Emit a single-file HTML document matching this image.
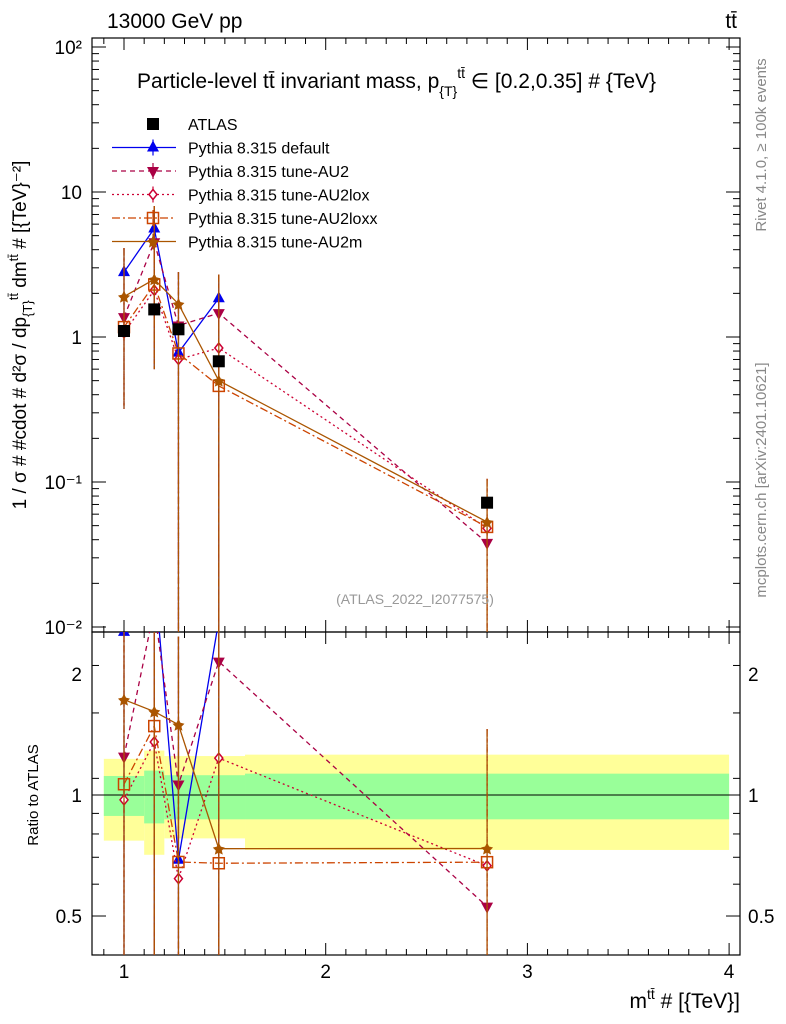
<!DOCTYPE html>
<html><head><meta charset="utf-8"><style>
html,body{margin:0;padding:0;background:#fff;overflow:hidden}
svg{display:block;font-family:"Liberation Sans",sans-serif}
</style></head><body>
<svg id="c" width="786" height="1024" viewBox="0 0 786 1024" xmlns="http://www.w3.org/2000/svg">
<rect width="786" height="1024" fill="#fff"/>
<g id="bands"></g>
<g id="axes"></g>
<g id="series"></g>
<text x="107" y="28" font-size="21">13000 GeV pp</text>
<text x="737" y="28" font-size="21" text-anchor="end">tt̄</text>
<text x="137" y="88" font-size="21">Particle-level tt̄ invariant mass, p<tspan font-size="14" dy="8">{T}</tspan><tspan font-size="14" dy="-18">tt̄</tspan><tspan dy="10"> ∈ [0.2,0.35] # {TeV}</tspan></text>
<text x="415" y="604" font-size="14" fill="#999" text-anchor="middle">(ATLAS_2022_I2077575)</text>
<text transform="translate(766,145) rotate(-90)" font-size="15" fill="#888" text-anchor="middle">Rivet 4.1.0, ≥ 100k events</text>
<text transform="translate(766,480) rotate(-90)" font-size="15" fill="#888" text-anchor="middle">mcplots.cern.ch [arXiv:2401.10621]</text>
<text transform="translate(26,335) rotate(-90)" font-size="19" text-anchor="middle">1 / σ # #cdot # d²σ / dp<tspan font-size="13" dy="6">{T}</tspan><tspan font-size="13" dy="-14">tt̄</tspan><tspan dy="8"> dm</tspan><tspan font-size="13" dy="-8">tt̄</tspan><tspan dy="8"> # [{TeV}⁻²]</tspan></text>
<text transform="translate(38,795) rotate(-90)" font-size="15" text-anchor="middle">Ratio to ATLAS</text>
<text x="740" y="1008" font-size="21" text-anchor="end">m<tspan font-size="14" dy="-9">tt̄</tspan><tspan dy="9"> # [{TeV}]</tspan></text>
<g id="legend"></g>
</svg>
<script>
const xs=[1.0,1.15,1.27,1.47,2.8];
const atlas=[1.1,1.55,1.13,0.68,0.072];
const atlasErr=[0.05,0.07,0.05,0.04,0.006];
const sDefault=[2.8,5.6,0.78,1.85];
const sAU2=[1.37,4.5,1.2,1.46,0.038];
const sAU2lox=[1.07,2.1,0.70,0.84,0.048];
const sAU2loxx=[1.17,2.3,0.77,0.46,0.049];
const sAU2m=[1.9,2.5,1.69,0.5,0.053];
const errLo=[0.32,0.6,0.001,0.001,0.001];
const errHi=[4.1,8.0,2.8,2.7,0.105];
const bandEdges=[0.9,1.1,1.2,1.6,4.0];
const bandYellowHi=[1.23,1.29,1.25,1.26];
const bandYellowLo=[0.77,0.71,0.78,0.73];
const bandGreenHi=[1.115,1.15,1.12,1.13];
const bandGreenLo=[0.887,0.85,0.87,0.87];
const xTicks=[1,2,3,4];
const yTicks=[0.01,0.1,1,10,100];
const yTickLabels=["10⁻²","10⁻¹","1","10","10²"];
const rTicks=[0.5,1,2];
const rTickLabels=["0.5","1","2"];

const NS="http://www.w3.org/2000/svg";
const L=92,R=740,T=38,MB=632,RB=955;
const X=v=>124+(v-1)*201.7;
const Y=v=>337-145*Math.log10(v);
const RY=v=>795-402*Math.log10(v);
function mk(tag,at,parent){const e=document.createElementNS(NS,tag);for(const k in at)e.setAttribute(k,at[k]);parent.appendChild(e);return e;}
const bands=document.getElementById('bands'),axes=document.getElementById('axes'),ser=document.getElementById('series'),leg=document.getElementById('legend');

for(let i=0;i<bandYellowHi.length;i++){
  let r=mk('rect',{x:X(bandEdges[i]),y:RY(bandYellowHi[i]),width:X(bandEdges[i+1])-X(bandEdges[i]),height:RY(bandYellowLo[i])-RY(bandYellowHi[i]),fill:'#ffff99'},bands);
  
  
  let g=mk('rect',{x:X(bandEdges[i]),y:RY(bandGreenHi[i]),width:X(bandEdges[i+1])-X(bandEdges[i]),height:RY(bandGreenLo[i])-RY(bandGreenHi[i]),fill:'#99ff99'},bands);
  
  
}
let f1=mk('rect',{x:L,y:T,width:R-L,height:MB-T,fill:'none',stroke:'#000','stroke-width':1.2},axes);


let f2=mk('rect',{x:L,y:MB,width:R-L,height:RB-MB,fill:'none',stroke:'#000','stroke-width':1.2},axes);


mk('line',{x1:L,x2:R,y1:RY(1),y2:RY(1),stroke:'#000'},axes);
for(let v=0.9;v<=4.01;v+=0.1){const x=X(v);const maj=Math.abs(v-Math.round(v))<1e-6;const len=maj?12:6;
  if(x<L||x>R)continue;
  [[T,T+len],[MB,MB-len],[MB,MB+len],[RB,RB-len]].forEach(p=>mk('line',{x1:x,x2:x,y1:p[0],y2:p[1],stroke:'#000'},axes));}
xTicks.forEach(v=>{let t=mk('text',{x:X(v),y:978,'font-size':19,'text-anchor':'middle'},axes);t.textContent=v;
  
  });
for(let d=-2;d<=2;d++){for(let m=1;m<10;m++){const v=m*Math.pow(10,d);const y=Y(v);if(y<T||y>MB)continue;const len=m==1?14:7;
  mk('line',{x1:L,x2:L+len,y1:y,y2:y,stroke:'#000'},axes);mk('line',{x1:R,x2:R-len,y1:y,y2:y,stroke:'#000'},axes);}}
yTicks.forEach((v,i)=>{let t=mk('text',{x:82,y:Y(v)+7,'font-size':19,'text-anchor':'end'},axes);t.textContent=yTickLabels[i];
  
  });
for(let v=0.3;v<=2.5;v+=(v<1?0.1:0.5)){const y=RY(v);if(y<MB||y>RB)continue;const len=(Math.abs(v-0.5)<1e-6||Math.abs(v-1)<1e-6||Math.abs(v-2)<1e-6)?14:7;
  mk('line',{x1:L,x2:L+len,y1:y,y2:y,stroke:'#000'},axes);mk('line',{x1:R,x2:R-len,y1:y,y2:y,stroke:'#000'},axes);}
rTicks.forEach((v,i)=>{[[82,'end'],[748,'start']].forEach(p=>{let t=mk('text',{x:p[0],y:RY(v)+7,'font-size':19,'text-anchor':p[1]},axes);t.textContent=rTickLabels[i];
  
  });});

const defs=mk('defs',{},ser);
const clipM=mk('clipPath',{id:'cm'},defs);mk('rect',{x:L,y:T,width:R-L,height:MB-T},clipM);
const clipR=mk('clipPath',{id:'cr'},defs);mk('rect',{x:L,y:MB,width:R-L,height:RB-MB},clipR);
const gM=mk('g',{'clip-path':'url(#cm)'},ser),gR=mk('g',{'clip-path':'url(#cr)'},ser);

function marker(g,type,x,y,col){
  if(type=='tri')mk('path',{d:`M${x},${y-7}L${x+6},${y+4}L${x-6},${y+4}Z`,fill:col},g);
  else if(type=='tridown')mk('path',{d:`M${x},${y+7}L${x+6},${y-4}L${x-6},${y-4}Z`,fill:col},g);
  else if(type=='diamond')mk('path',{d:`M${x},${y-5}L${x+4},${y}L${x},${y+5}L${x-4},${y}Z`,fill:'#fff',stroke:col,'stroke-width':1.5},g);
  else if(type=='square')mk('rect',{x:x-5.5,y:y-5.5,width:11,height:11,fill:'none',stroke:col,'stroke-width':1.5},g);
  else if(type=='star')mk('path',{d:`M${x},${y-6}L${x+2},${y-2}L${x+6},${y-1}L${x+3},${y+2}L${x+4},${y+6}L${x},${y+4}L${x-4},${y+6}L${x-3},${y+2}L${x-6},${y-1}L${x-2},${y-2}Z`,fill:col},g);
  else if(type=='box')mk('rect',{x:x-6,y:y-6,width:12,height:12,fill:col},g);
}
const series=[
 {name:'default',label:'Pythia 8.315 default',d:sDefault,col:'#0000ee',dash:'',m:'tri'},
 {name:'au2',label:'Pythia 8.315 tune-AU2',d:sAU2,col:'#aa0044',dash:'5,4',m:'tridown'},
 {name:'au2lox',label:'Pythia 8.315 tune-AU2lox',d:sAU2lox,col:'#cc0033',dash:'2,3',m:'diamond'},
 {name:'au2loxx',label:'Pythia 8.315 tune-AU2loxx',d:sAU2loxx,col:'#cc4400',dash:'8,3,2,3',m:'square'},
 {name:'au2m',label:'Pythia 8.315 tune-AU2m',d:sAU2m,col:'#aa5500',dash:'',m:'star'}];
series.forEach(s=>{
  const g=mk('g',{},gM);
  
  
  const gr=mk('g',{},gR);
  
  
  const pts=s.d.map((v,i)=>[X(xs[i]),Y(v)]);
  const rpts=s.d.map((v,i)=>[X(xs[i]),RY(v/atlas[i])]);
  mk('polyline',{points:pts.join(' '),fill:'none',stroke:s.col,'stroke-width':1.3,'stroke-dasharray':s.dash},g);
  mk('polyline',{points:rpts.join(' '),fill:'none',stroke:s.col,'stroke-width':1.3,'stroke-dasharray':s.dash},gr);
  s.d.forEach((v,i)=>{const x=X(xs[i]);
    mk('line',{x1:x,x2:x,y1:Y(errHi[i]),y2:Y(errLo[i]),stroke:s.col,'stroke-width':1.2,'stroke-dasharray':s.dash},g);
    mk('line',{x1:x,x2:x,y1:RY(errHi[i]/atlas[i]),y2:RY(errLo[i]/atlas[i]),stroke:s.col,'stroke-width':1.2,'stroke-dasharray':s.dash},gr);
    marker(g,s.m,x,Y(v),s.col);marker(gr,s.m,x,RY(v/atlas[i]),s.col);});
});
const ga=mk('g',{},gM);


atlas.forEach((v,i)=>{const x=X(xs[i]);mk('line',{x1:x,x2:x,y1:Y(v+atlasErr[i]),y2:Y(v-atlasErr[i]),stroke:'#000'},ga);marker(ga,'box',x,Y(v),'#000');});
const ly0=124,ldy=23.5;
let e0=mk('g',{},leg);


marker(e0,'box',153,ly0,'#000');
let t0=mk('text',{x:188,y:ly0+6,'font-size':16},e0);t0.textContent='ATLAS';
series.forEach((s,i)=>{const y=ly0+ldy*(i+1);const e=mk('g',{},leg);
  
  
  mk('line',{x1:112,x2:176,y1:y,y2:y,stroke:s.col,'stroke-width':1.3,'stroke-dasharray':s.dash},e);
  mk('line',{x1:153,x2:153,y1:y-8,y2:y+8,stroke:s.col,'stroke-width':1.2},e);
  marker(e,s.m,153,y,s.col);
  const t=mk('text',{x:188,y:y+6,'font-size':16},e);t.textContent=s.label;});
</script>
</body></html>
